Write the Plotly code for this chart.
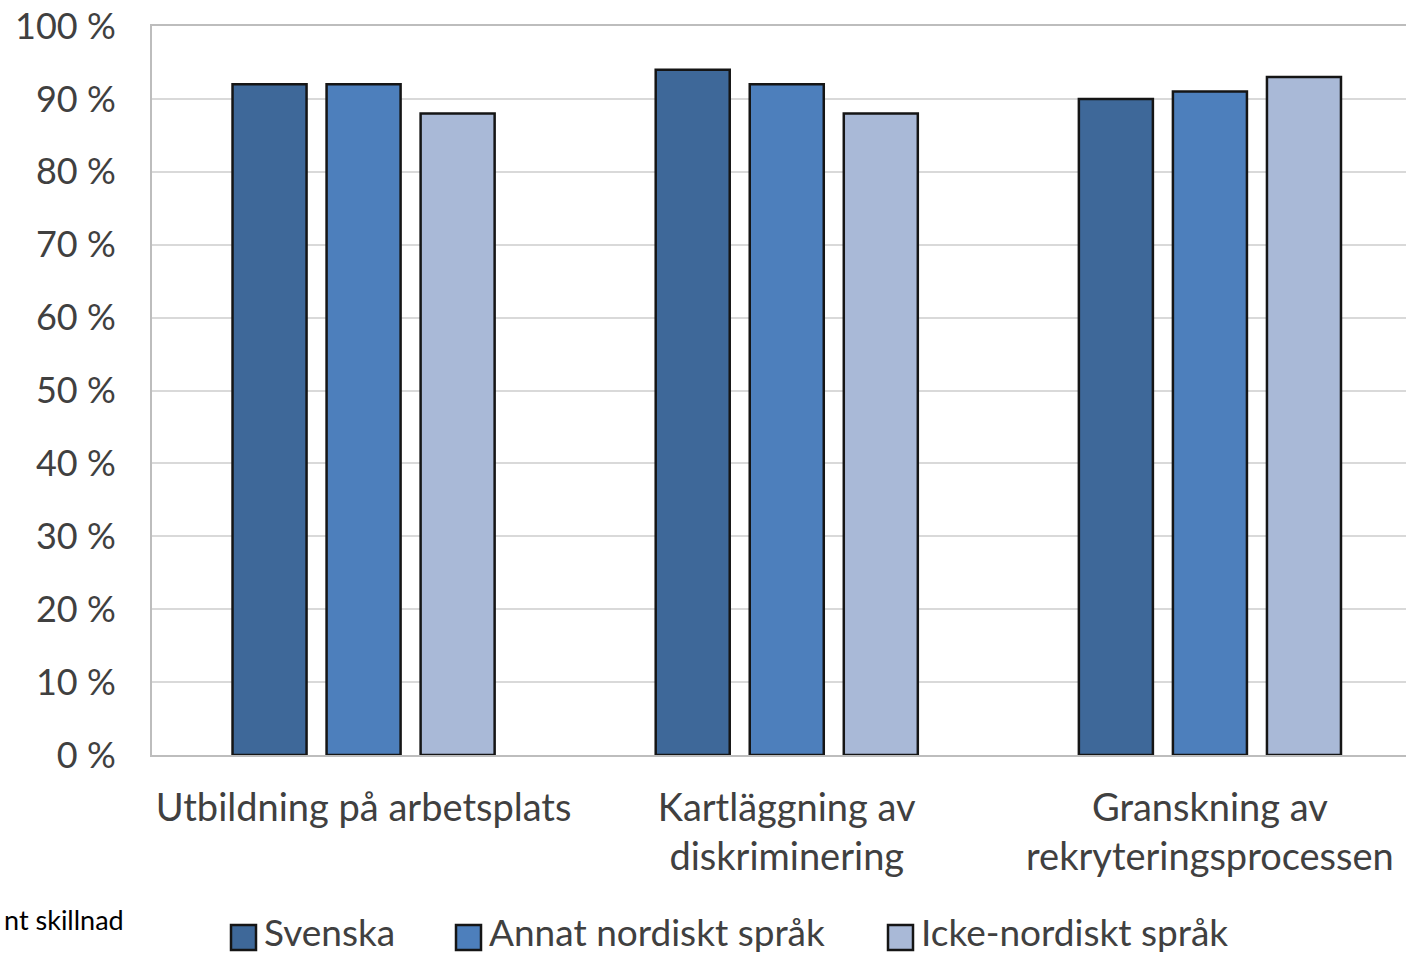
import plotly.graph_objects as go

# Andel per åtgärd och modersmål
categories = ["Utbildning på arbetsplats", "Kartläggning av<br>diskriminering", "Granskning av<br>rekryteringsprocessen"]
series_names = ["Svenska", "Annat nordiskt språk", "Icke-nordiskt språk"]
svenska = [92, 94, 90]
annat_nordiskt = [92, 92, 91]
icke_nordiskt = [88, 88, 93]
y_ticks = [0, 10, 20, 30, 40, 50, 60, 70, 80, 90, 100]
y_tick_labels = [f"{v} %" for v in y_ticks]
note_text = "nt skillnad"

series_values = [svenska, annat_nordiskt, icke_nordiskt]
colors = ["#3E6899", "#4D7FBC", "#A9B9D7"]

W, H = 1406, 956
L, R, T, B = 152, 0, 26, 201
plot_w = W - L - R
plot_h = H - T - B

FONT = "Lato"
FS = 38
TEXT_COLOR = "#404040"


def px(x):
    return (x - L) / plot_w


def py(y):
    return (H - B - y) / plot_h


fig = go.Figure()
x_pos = list(range(len(categories)))
for name, vals, col in zip(series_names, series_values, colors):
    fig.add_trace(go.Bar(
        x=x_pos, y=vals, name=name,
        marker=dict(color=col, line=dict(color="#151515", width=2.5)),
        showlegend=False,
    ))

# Legend drawn as boxes with labels below the chart
legend_boxes = [231, 456, 888]
for name, col, x0 in zip(series_names, colors, legend_boxes):
    fig.add_shape(type="rect", xref="paper", yref="paper",
                  x0=px(x0), x1=px(x0 + 25), y0=py(950), y1=py(925),
                  fillcolor=col, line=dict(color="#151515", width=2.5))
    fig.add_annotation(xref="paper", yref="paper", x=px(x0 + 31), y=py(956),
                       text=name, showarrow=False, xanchor="left", yanchor="bottom",
                       font=dict(family=FONT, size=37, color=TEXT_COLOR))

fig.add_annotation(xref="paper", yref="paper", x=px(126), y=py(919),
                   text=note_text, showarrow=False, xanchor="right", yanchor="middle",
                   font=dict(family=FONT, size=27, color="#000000"))

fig.update_layout(
    width=W, height=H,
    margin=dict(l=L, r=R, t=T, b=B, pad=0),
    paper_bgcolor="white", plot_bgcolor="white",
    barmode="group", bargap=0.3333, bargroupgap=0.2128,
    font=dict(family=FONT, size=FS, color=TEXT_COLOR),
    xaxis=dict(
        tickmode="array", tickvals=x_pos, ticktext=categories,
        range=[-0.5, 2.5 - 15.5 / 423],
        showline=True, linecolor="#BDBDBD", linewidth=2, mirror=True,
        showgrid=False, ticks="", ticklabelstandoff=18,
        tickfont=dict(family=FONT, size=FS, color=TEXT_COLOR),
    ),
    yaxis=dict(
        range=[0, 100], tickmode="array", tickvals=y_ticks, ticktext=y_tick_labels,
        showline=True, linecolor="#BDBDBD", linewidth=2,
        showgrid=True, gridcolor="#D9D9D9", gridwidth=2,
        zeroline=False, ticks="", ticklabelstandoff=27,
        tickfont=dict(family=FONT, size=36, color=TEXT_COLOR),
    ),
)

fig.write_html("out.html")
